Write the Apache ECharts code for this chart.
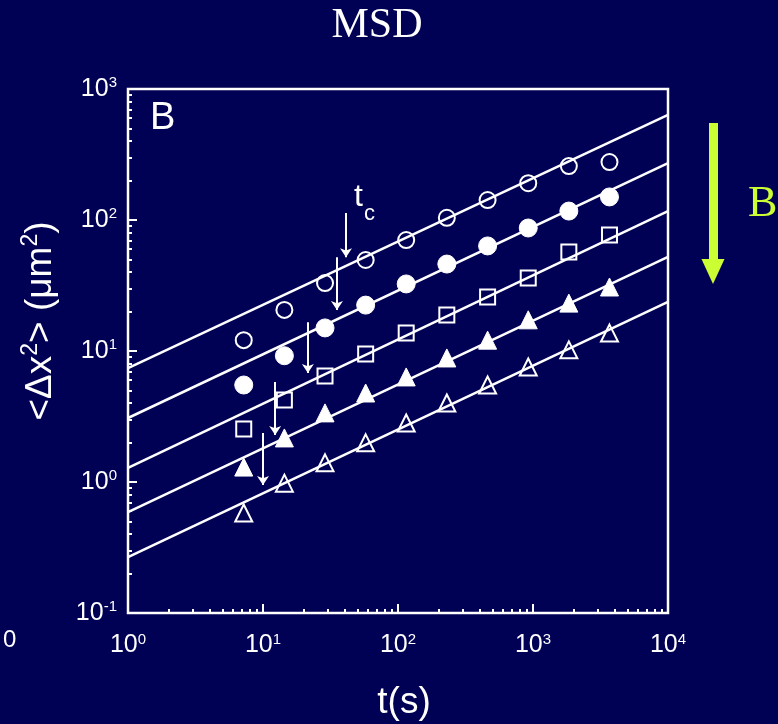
<!DOCTYPE html>
<html><head><meta charset="utf-8">
<script src="https://cdn.jsdelivr.net/npm/echarts@6/dist/echarts.min.js"></script>
<style>html,body{margin:0;padding:0;background:#000054;}#c{width:778px;height:724px;}</style>
</head><body><div id="c"></div>
<script>
// ---- data ----
const tValues = [7.2, 14.4, 28.8, 57.6, 115, 230, 461, 922, 1843, 3686];
const msdOpenCircle     = [12.1, 20.6, 33.0, 49.5, 70.3, 104, 142, 191, 258, 277];
const msdFilledCircle   = [5.5, 9.2, 15.0, 22.4, 32.5, 46.1, 63.4, 86.9, 117, 150];
const msdOpenSquare     = [2.54, 4.23, 6.44, 9.5, 13.7, 18.8, 25.8, 36.1, 57.0, 76.8];
const msdFilledTriangle = [1.30, 2.17, 3.37, 4.78, 6.34, 8.85, 12.1, 17.3, 23.2, 30.8];
const msdOpenTriangle   = [0.58, 0.98, 1.40, 1.99, 2.82, 4.01, 5.50, 7.55, 10.2, 13.7];
const fitT = [1, 10000];
const fitOpenCircle     = [7.4, 634];
const fitFilledCircle   = [3.08, 272];
const fitOpenSquare     = [1.28, 117];
const fitFilledTriangle = [0.59, 52.2];
const fitOpenTriangle   = [0.267, 23.7];
const tcArrowT    = [41.2, 35.3, 21.5, 12.3, 10];
const tcArrowFrom = [113, 52, 16.6, 5.8, 2.37];
const tcArrowTo   = [52, 20.6, 6.8, 2.28, 0.95];
const xMinorTicks = [2,3,4,5,6,7,8,9,20,30,40,50,60,70,80,90,200,300,400,500,600,700,800,900,2000,3000,4000,5000,6000,7000,8000,9000];
const yMinorTicks = [0.2,0.3,0.4,0.5,0.6,0.7,0.8,0.9,2,3,4,5,6,7,8,9,20,30,40,50,60,70,80,90,200,300,400,500,600,700,800,900];
const titleText = 'MSD';
const xName = 't(s)';
const yNameParts = ['<Δx', '2', '> (μm', '2', ')'];

// ---- chart ----
const BG = '#000054';
const FG = '#ffffff';
const SANS = 'Liberation Sans, Arial, sans-serif';
const SERIF = 'Liberation Serif, Times New Roman, serif';
const chart = echarts.init(document.getElementById('c'), null, {renderer: 'canvas'});

function expLabel(v) {
  const e = Math.round(Math.log10(v));
  return '{b|10}{s|' + e + '}';
}
const tickRich = {
  b: {fontSize: 25, fontFamily: SANS, color: FG, lineHeight: 27},
  s: {fontSize: 15, fontFamily: SANS, color: FG, verticalAlign: 'top', lineHeight: 15}
};
const pairs = (xs, ys) => xs.map((x, i) => [x, ys[i]]);

function majorX() {
  return {type: 'log', logBase: 10, min: 1, max: 10000, gridIndex: 0, position: 'bottom',
    axisLine: {show: false}, splitLine: {show: false},
    axisTick: {show: true, inside: true, length: 9, lineStyle: {color: FG, width: 2}},
    axisLabel: {show: true, margin: 19, fontSize: 25, fontFamily: SANS, color: FG, formatter: expLabel, rich: tickRich, showMinLabel: true, showMaxLabel: true}};
}
function minorX() {
  return {type: 'log', logBase: 10, min: 1, max: 10000, gridIndex: 0, position: 'bottom',
    axisLine: {show: false}, splitLine: {show: false}, axisLabel: {show: false},
    axisTick: {show: true, inside: true, length: 4, customValues: xMinorTicks, lineStyle: {color: FG, width: 2}}};
}
function majorY() {
  return {type: 'log', logBase: 10, min: 0.1, max: 1000, gridIndex: 0, position: 'left',
    axisLine: {show: false}, splitLine: {show: false},
    axisTick: {show: true, inside: true, length: 9, lineStyle: {color: FG, width: 2}},
    axisLabel: {show: true, margin: 11, fontSize: 25, fontFamily: SANS, color: FG, formatter: expLabel, rich: tickRich, showMinLabel: true, showMaxLabel: true}};
}
function minorY() {
  return {type: 'log', logBase: 10, min: 0.1, max: 1000, gridIndex: 0, position: 'left',
    axisLine: {show: false}, splitLine: {show: false}, axisLabel: {show: false},
    axisTick: {show: true, inside: true, length: 4, customValues: yMinorTicks, lineStyle: {color: FG, width: 2}}};
}

function fitLine(ys) {
  return {type: 'line', data: pairs(fitT, ys), symbol: 'none', silent: true, z: 2,
    lineStyle: {color: FG, width: 2.5}, animation: false};
}
function pts(ys, symbol, size, filled) {
  return {type: 'scatter', data: pairs(tValues, ys), symbol: symbol, symbolSize: size, z: 3,
    itemStyle: filled ? {color: FG, borderColor: FG, borderWidth: 1, opacity: 1}
                      : {color: 'rgba(0,0,0,0)', borderColor: FG, borderWidth: 2, opacity: 1},
    animation: false};
}

const option = {
  backgroundColor: BG,
  animation: false,
  grid: {left: 128, top: 89, right: 110, bottom: 111, show: true, borderColor: FG, borderWidth: 2.5, containLabel: false},
  xAxis: [majorX(), minorX()],
  yAxis: [majorY(), minorY()],
  series: [
    fitLine(fitOpenCircle), fitLine(fitFilledCircle), fitLine(fitOpenSquare),
    fitLine(fitFilledTriangle), fitLine(fitOpenTriangle),
    pts(msdOpenCircle, 'circle', 16, false),
    pts(msdFilledCircle, 'circle', 18, true),
    pts(msdOpenSquare, 'rect', 15, false),
    pts(msdFilledTriangle, 'triangle', 18, true),
    pts(msdOpenTriangle, 'triangle', 17, false),
    {type: 'lines', coordinateSystem: 'cartesian2d', xAxisIndex: 0, yAxisIndex: 0, z: 4,
      symbol: ['none', 'arrow'], symbolSize: 9,
      lineStyle: {color: FG, width: 2, opacity: 1, curveness: 0},
      data: tcArrowT.map((t, i) => ({coords: [[t, tcArrowFrom[i]], [t, tcArrowTo[i]]]})),
      animation: false}
  ]
};
chart.setOption(option);

// annotations placed relative to chart coordinates
const tcTop = chart.convertToPixel({xAxisIndex: 0, yAxisIndex: 0}, [tcArrowT[0], tcArrowFrom[0]]);
chart.setOption({
  graphic: [
    {type: 'text', x: 377, y: 26, style: {text: titleText, font: '42px ' + SERIF, fill: FG, textAlign: 'center', textVerticalAlign: 'middle'}, z: 10},
    {type: 'text', x: 150, y: 100, style: {text: 'B', font: '38px ' + SANS, fill: FG}, z: 10},
    {type: 'text', x: tcTop[0] + 8, y: tcTop[1] - 32, style: {text: 't', font: '32px ' + SANS, fill: FG}, z: 10},
    {type: 'text', x: tcTop[0] + 18, y: tcTop[1] - 10, style: {text: 'c', font: '22px ' + SANS, fill: FG}, z: 10},
    {type: 'text', x: 41, y: 321, rotation: Math.PI / 2, style: {
      text: '{a|' + yNameParts[0] + '}{s|' + yNameParts[1] + '}{a|' + yNameParts[2] + '}{s|' + yNameParts[3] + '}{a|' + yNameParts[4] + '}',
      textAlign: 'center', textVerticalAlign: 'middle',
      rich: {a: {font: '37px ' + SANS, fill: FG, lineHeight: 44}, s: {font: '23px ' + SANS, fill: FG, verticalAlign: 'top', lineHeight: 26}}}, z: 10},
    {type: 'text', x: 404, y: 703, style: {text: xName, font: '37px ' + SANS, fill: FG, textAlign: 'center', textVerticalAlign: 'middle'}, z: 10},
    {type: 'text', x: 3, y: 628, style: {text: '0', font: '24px ' + SANS, fill: FG}, z: 10},
    {type: 'rect', shape: {x: 709, y: 123, width: 9, height: 140}, style: {fill: '#ccff33'}, z: 10},
    {type: 'polygon', shape: {points: [[701.5, 259], [724.5, 259], [713, 284]]}, style: {fill: '#ccff33'}, z: 10},
    {type: 'text', x: 748, y: 182, style: {text: 'B', font: '44px ' + SERIF, fill: '#ccff33'}, z: 10}
  ]
});
</script>
</body></html>
